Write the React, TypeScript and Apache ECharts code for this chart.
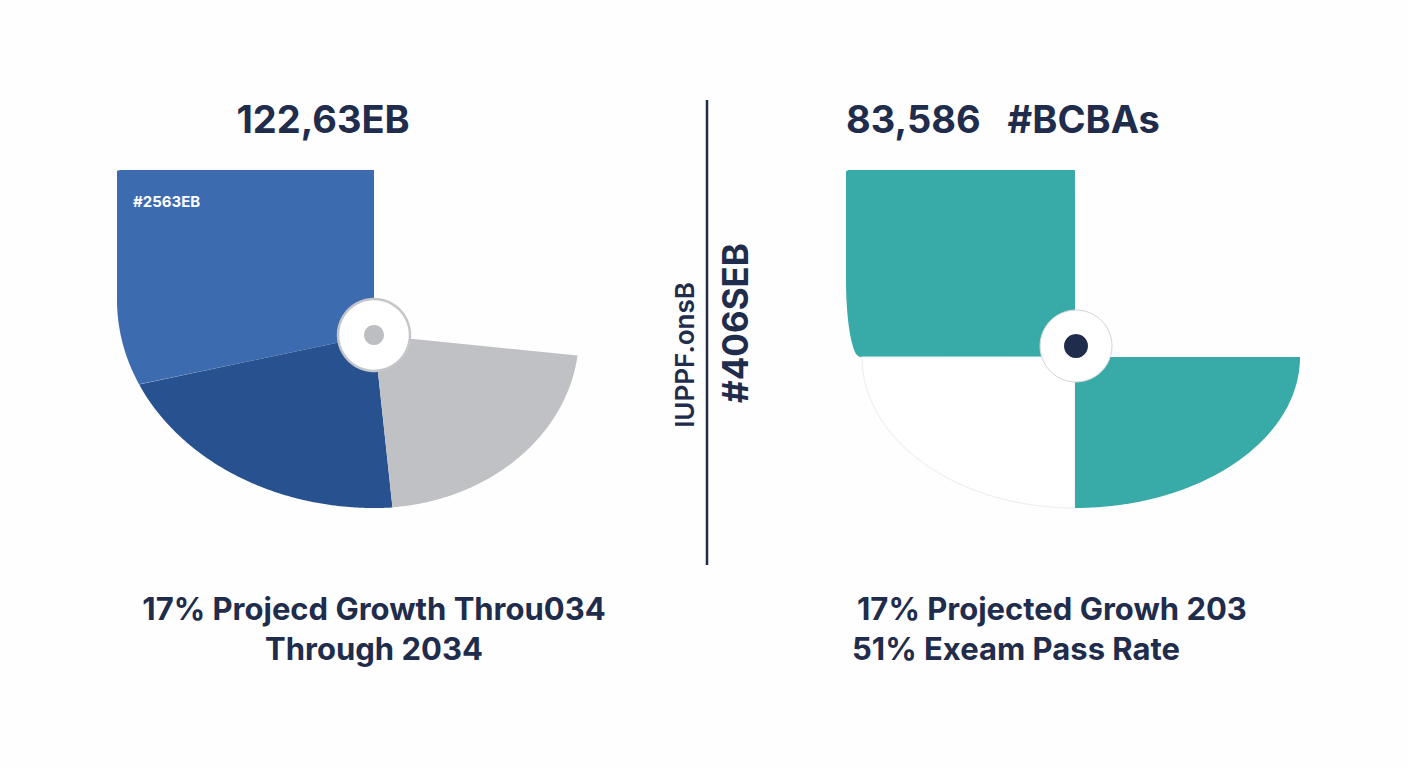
import React, { useEffect, useRef } from 'react';
import * as echarts from 'echarts';

// ---------- data ----------
const leftTitle = '122,63EB';
const rightTitle = '83,586   #BCBAs';
const leftSegments = ['#2563EB', 'Segment B', 'Segment C', 'Open'];
const leftShares = [28.3, 23.4, 21.7, 26.6];
const rightSegments = ['BCBAs A', 'Open A', 'BCBAs B', 'Open B'];
const rightShares = [25, 25, 25, 25];
const leftCaption = ['17% Projecd Growth Throu034', 'Through 2034'];
const rightCaption = ['17% Projected Growh 203', '51% Exeam Pass Rate'];
const dividerLabels = ['IUPPF.onsB', '#406SEB'];

// ---------- styles / geometry ----------
type Pt = [number, number];
type Piece = { kind: 'e' | 'r' | 'eo'; a: number; b: number; ca?: number; cb?: number; oy?: number };

const E = (a: number, b: number): Piece => ({ kind: 'e', a, b });
const R = (a: number, b: number, ca = 0, cb = 0): Piece => ({ kind: 'r', a, b, ca, cb });
// lower-left arc whose ellipse centre is raised by oy
const EO = (a: number, b: number, oy: number): Piece => ({ kind: 'eo', a, b, oy });

const NAVY = '#1F2C4B';
const FONT = 'Inter, "Liberation Sans", Arial, sans-serif';

const leftCenter: Pt = [374, 335];
const rightCenter: Pt = [1075, 357];

const leftLook = [
  { fill: '#3D6BB0', stroke: 'none', pieces: [E(257, 165), R(257, 165), EO(257, 173, 35), E(257, 173)] },
  { fill: '#28518F', stroke: 'none', pieces: [E(257, 173), E(257, 173), EO(257, 173, 35), E(257, 173)] },
  { fill: '#C0C1C5', stroke: 'none', pieces: [E(205, 173), E(205, 173), E(205, 173), E(205, 173)] },
  { fill: 'none', stroke: 'none', pieces: [E(200, 170), E(200, 170), E(200, 170), E(200, 170)] },
];
const rightLook = [
  { fill: '#38ABA9', stroke: 'none', pieces: [E(229, 187), R(229, 187, 14, 77), E(229, 187), E(229, 187)] },
  { fill: '#FFFFFF', stroke: '#EDF0F0', pieces: [E(213, 151), E(213, 151), E(213, 151), E(213, 151)] },
  { fill: '#38ABA9', stroke: 'none', pieces: [E(225, 151), E(225, 151), E(225, 151), E(225, 151)] },
  { fill: 'none', stroke: 'none', pieces: [E(200, 150), E(200, 150), E(200, 150), E(200, 150)] },
];

function piecePoints(q: number, p: Piece): Pt[] {
  if (p.kind === 'e') {
    const pts: Pt[] = [];
    for (let k = 0; k <= 90; k++) {
      const t = ((q * 90 + k) * Math.PI) / 180;
      pts.push([p.a * Math.cos(t), p.b * Math.sin(t)]);
    }
    return pts;
  }
  if (p.kind === 'eo') {
    const oy = p.oy || 0;
    const pts: Pt[] = [];
    for (let k = 0; k <= 90; k++) {
      const t = ((180 + k) * Math.PI) / 180;
      pts.push([p.a * Math.cos(t), oy + (p.b + oy) * Math.sin(t)]);
    }
    return pts;
  }
  const ca = p.ca || 0;
  const cb = p.cb || 0;
  // local: from y-axis end to x-axis end, positive quadrant
  const L: Pt[] = [[0, p.b], [p.a, p.b], [p.a, cb]];
  if (ca > 0 && cb > 0) {
    for (let k = 1; k <= 30; k++) {
      const f = (-k * 3 * Math.PI) / 180;
      L.push([p.a - ca + ca * Math.cos(f), cb + cb * Math.sin(f)]);
    }
  } else {
    L.push([p.a, 0]);
  }
  if (q === 1) return L.map(([x, y]) => [-x, y] as Pt);
  if (q === 3) return L.map(([x, y]) => [x, -y] as Pt);
  const rev = L.slice().reverse();
  if (q === 0) return rev;
  return rev.map(([x, y]) => [-x, -y] as Pt);
}

function outline(pieces: Piece[]): Pt[] {
  let all: Pt[] = [];
  pieces.forEach((p, q) => {
    all = all.concat(piecePoints(q, p));
  });
  return all;
}

function rayHit(poly: Pt[], th: number): Pt {
  const dx = Math.cos(th);
  const dy = Math.sin(th);
  let best = Infinity;
  for (let i = 0; i < poly.length; i++) {
    const p = poly[i];
    const q = poly[(i + 1) % poly.length];
    const ex = q[0] - p[0];
    const ey = q[1] - p[1];
    const den = dx * ey - dy * ex;
    if (Math.abs(den) < 1e-12) continue;
    const t = (p[0] * ey - p[1] * ex) / den;
    const u = (p[0] * dy - p[1] * dx) / den;
    if (t > 1e-6 && u >= -1e-9 && u <= 1 + 1e-9 && t < best) best = t;
  }
  if (!isFinite(best)) best = 0;
  return [best * dx, best * dy];
}

function makeSeries(name: string, labels: string[], shares: number[], look: any[], center: Pt) {
  const total = shares.reduce((s, v) => s + v, 0);
  const starts: number[] = [];
  let acc = 0;
  shares.forEach((v) => {
    starts.push(90 + (acc / total) * 360);
    acc += v;
  });
  return {
    type: 'custom',
    name,
    coordinateSystem: 'none',
    silent: true,
    z: 2,
    data: shares.map((v, i) => ({ name: labels[i], value: v })),
    renderItem: (params: any) => {
      const i = params.dataIndex;
      const lk = look[i];
      if (lk.fill === 'none') return { type: 'group', children: [] };
      const a0 = starts[i];
      const a1 = a0 + (shares[i] / total) * 360;
      const poly = outline(lk.pieces);
      const pts: number[][] = [[center[0], center[1]]];
      const eps = 0.01;
      const steps = Math.max(2, Math.ceil((a1 - a0) / 0.5));
      for (let k = 0; k <= steps; k++) {
        const deg = a0 + eps + ((a1 - a0 - 2 * eps) * k) / steps;
        const h = rayHit(poly, (deg * Math.PI) / 180);
        pts.push([center[0] + h[0], center[1] - h[1]]);
      }
      return {
        type: 'polygon',
        shape: { points: pts },
        style: { fill: lk.fill, stroke: lk.stroke, lineWidth: lk.stroke === 'none' ? 0 : 1.2 },
      };
    },
  };
}

function txt(text: string, x: number, y: number, size: number, opts: any = {}) {
  return {
    type: 'text',
    x,
    y,
    z: 100,
    rotation: opts.rotation || 0,
    style: {
      text,
      fill: opts.fill || NAVY,
      font: `${opts.weight || 700} ${size}px ${opts.family || FONT}`,
      textAlign: opts.align || 'center',
      textVerticalAlign: 'middle',
    },
  };
}

export default function App() {
  const ref = useRef<HTMLDivElement>(null);
  useEffect(() => {
    if (!ref.current) return;
    const chart = echarts.init(ref.current, undefined, { renderer: 'svg' });
    chart.setOption({
      animation: false,
      backgroundColor: '#FEFEFE',
      series: [
        makeSeries('left', leftSegments, leftShares, leftLook, leftCenter),
        makeSeries('right', rightSegments, rightShares, rightLook, rightCenter),
      ],
      graphic: [
        txt(leftTitle, 323, 119, 38),
        txt(rightTitle, 846, 119, 38, { align: 'left' }),
        txt(leftSegments[0], 133, 201, 15, { fill: '#FFFFFF', align: 'left' }),
        // rings
        { type: 'circle', z: 100, shape: { cx: 374, cy: 335, r: 36 }, style: { fill: '#FFFFFF', stroke: '#C4C6CA', lineWidth: 2.5 } },
        { type: 'circle', z: 101, shape: { cx: 374, cy: 335, r: 10 }, style: { fill: '#BDBEC2' } },
        { type: 'circle', z: 100, shape: { cx: 1076, cy: 346, r: 36 }, style: { fill: '#FFFFFF', stroke: '#D2D4D6', lineWidth: 1 } },
        { type: 'circle', z: 101, shape: { cx: 1076, cy: 346, r: 12 }, style: { fill: NAVY } },
        // divider
        { type: 'line', z: 100, shape: { x1: 707, y1: 100, x2: 707, y2: 565 }, style: { stroke: NAVY, lineWidth: 2.5 } },
        txt(dividerLabels[0], 684, 355, 26, { rotation: Math.PI / 2, weight: 600 }),
        txt(dividerLabels[1], 735, 323, 35, { rotation: Math.PI / 2 }),
        // captions
        txt(leftCaption[0], 374, 608, 31),
        txt(leftCaption[1], 374, 648, 31),
        txt(rightCaption[0], 857, 608, 31, { align: 'left' }),
        txt(rightCaption[1], 852, 648, 31, { align: 'left' }),
      ],
    });
    return () => chart.dispose();
  }, []);
  return <div ref={ref} style={{ position: 'fixed', left: 0, top: 0, width: 1408, height: 768 }} />;
}
